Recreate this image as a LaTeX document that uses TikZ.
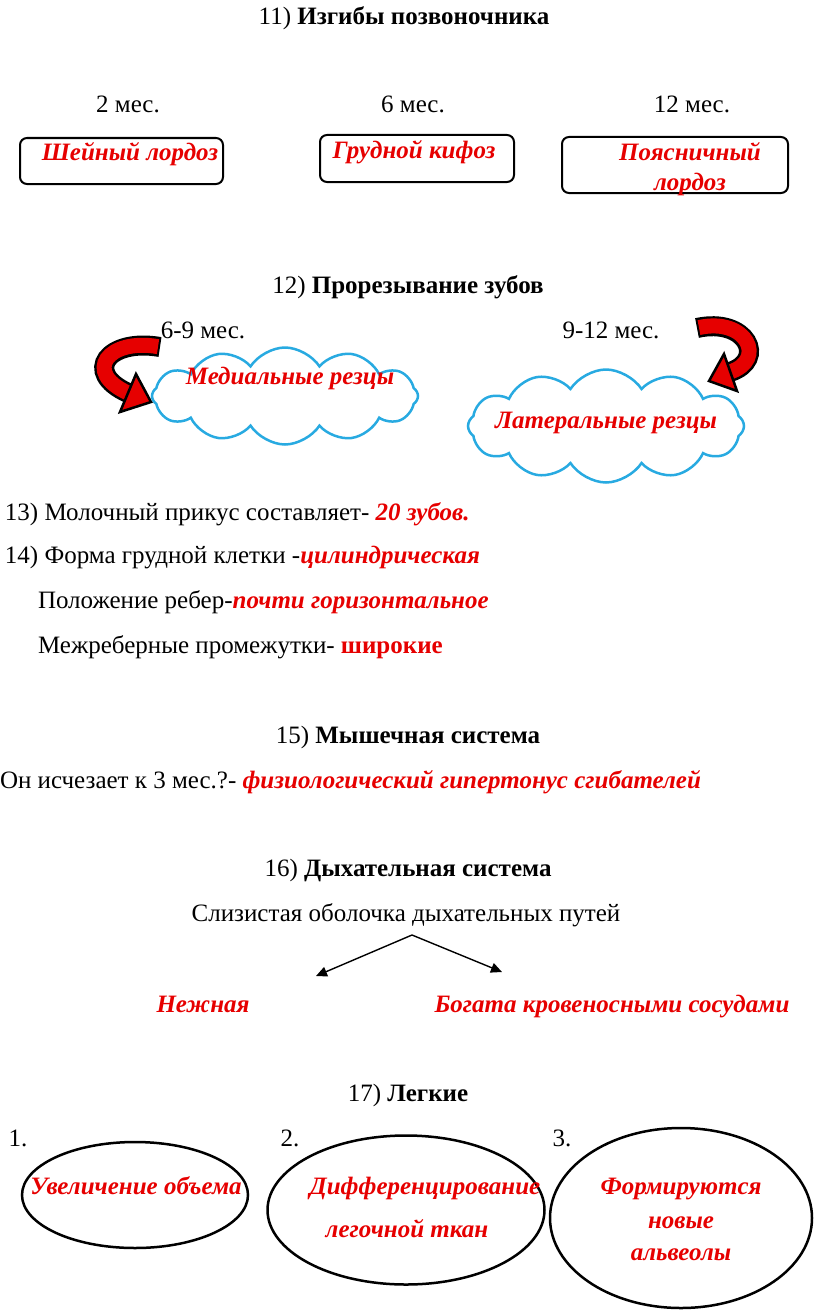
\documentclass[tikz,border=0pt]{standalone}
\usepackage{fontspec}
\setmainfont{Liberation Serif}
\usetikzlibrary{shapes.symbols,shapes.geometric,arrows.meta}
\definecolor{rd}{RGB}{230,0,0}
\definecolor{cloudblue}{RGB}{40,170,225}
\begin{document}
\begin{tikzpicture}[x=1pt,y=-1pt,
  every node/.style={inner sep=0pt, outer sep=0pt, font=\fontsize{25}{29}\selectfont},
  tc/.style={anchor=base},
  tl/.style={anchor=base west},
  hl/.style={text=rd, font=\fontsize{25}{29}\selectfont\bfseries\itshape},
  box/.style={draw, rounded corners=7pt, line width=2pt},
  cl/.style={cloud, cloud puffs=12, cloud puff arc=115, draw=cloudblue, line width=2.5pt},
  ov/.style={draw, ellipse, line width=2.5pt},
  bandout/.style={line width=20pt, black},
  bandin/.style={line width=15pt, rd, shorten <=2pt},
  head/.style={fill=rd, draw=black, line width=2.5pt, line join=miter},
  flow/.style={-{Triangle[length=11pt,width=10pt]}, line width=1.4pt}
]
\useasboundingbox (0,0) rectangle (816,1311);

% 11
\node[tc] (h11) at (404,25) {11) \textbf{Изгибы позвоночника}};
\node[tc] (m2) at (128,113) {2 мес.};
\node[tc] (m6) at (413,113) {6 мес.};
\node[tc] (m12) at (692,113) {12 мес.};
\node[box, minimum width=203, minimum height=46] (b1) at (121.5,161) {};
\node[box, minimum width=194, minimum height=47] (b2) at (417,158.5) {};
\node[box, minimum width=226, minimum height=56] (b3) at (675,165) {};
\node[tc, hl] (t1) at (130,160) {Шейный лордоз};
\node[tc, hl] (t2) at (414,158) {Грудной кифоз};
\node[tc, hl] (t3a) at (690,160) {Поясничный};
\node[tc, hl] (t3b) at (690,190) {лордоз};

% 12
\node[tc] (h12) at (408,293) {12) \textbf{Прорезывание зубов}};
\node[tc] (m69) at (203,338) {6-9 мес.};
\node[tc] (m912) at (611,338) {9-12 мес.};
\node[cl, minimum width=266, minimum height=97] (c1) at (285,396) {};
\node[cl, minimum width=276, minimum height=113] (c2) at (606,426) {};
\node[tc, hl] (tc1) at (290,384) {Медиальные резцы};
\node[tc, hl] (tc2) at (606,428) {Латеральные резцы};

% curved arrows
\draw[bandout] (160,347) .. controls (108,338) and (82,372) .. (128,393);
\draw[bandin] (160,347) .. controls (108,338) and (82,372) .. (128,393);
\filldraw[head] (151,402) -- (136,374) -- (120,412) -- cycle;
\draw[bandout] (697,328) .. controls (747,317) and (767,360) .. (730,372);
\draw[bandin] (697,328) .. controls (747,317) and (767,360) .. (730,372);
\filldraw[head] (709,381) -- (737,391) -- (724,354) -- cycle;

% 13, 14
\node[tl] (l13) at (5,520) {13) Молочный прикус составляет- {\bfseries\itshape\color{rd}20 зубов.}};
\node[tl] (l14) at (5,563) {14) Форма грудной клетки -{\bfseries\itshape\color{rd}цилиндрическая}};
\node[tl] (l14b) at (38,608) {Положение ребер-{\bfseries\itshape\color{rd}почти горизонтальное}};
\node[tl] (l14c) at (38,653) {Межреберные промежутки- {\bfseries\color{rd}широкие}};

% 15
\node[tc] (h15) at (408,743) {15) \textbf{Мышечная система}};
\node[tl] (l15) at (0,788) {Он исчезает к 3 мес.?- {\bfseries\itshape\color{rd}физиологический гипертонус сгибателей}};

% 16
\node[tc] (h16) at (408,876) {16) \textbf{Дыхательная система}};
\node[tc] (sl) at (406,921) {Слизистая оболочка дыхательных путей};
\coordinate (split) at (412,935);
\coordinate (lend) at (316,976);
\coordinate (rend) at (502,972);
\draw[flow] (split) -- (lend);
\draw[flow] (split) -- (rend);
\node[tc, hl] (nz) at (203,1012) {Нежная};
\node[tc, hl] (bg) at (612,1012) {Богата кровеносными сосудами};

% 17
\node[tc] (h17) at (408,1101) {17) \textbf{Легкие}};
\node[tc] (n1) at (18,1146) {1.};
\node[tc] (n2) at (290,1146) {2.};
\node[tc] (n3) at (562,1146) {3.};
\node[ov, minimum width=226, minimum height=106] (e1) at (135,1195) {};
\node[ov, minimum width=277, minimum height=149] (e2) at (406,1210) {};
\node[ov, minimum width=262, minimum height=180] (e3) at (681,1218) {};
\node[tc, hl] (te1) at (136,1194) {Увеличение объема};
\node[tc, hl] (te2a) at (425,1194) {Дифференцирование};
\node[tc, hl] (te2b) at (407,1237) {легочной ткан};
\node[tc, hl] (te3a) at (681,1194) {Формируются};
\node[tc, hl] (te3b) at (681,1228) {новые};
\node[tc, hl] (te3c) at (681,1260) {альвеолы};
\end{tikzpicture}
\end{document}
